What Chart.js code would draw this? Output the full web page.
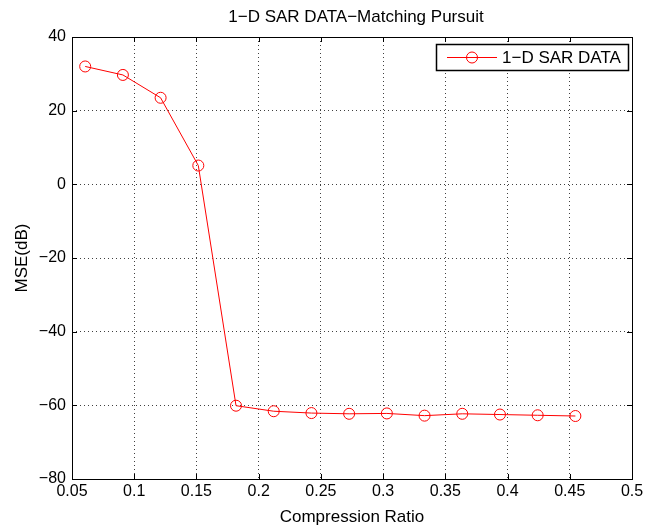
<!DOCTYPE html>
<html>
<head>
<meta charset="utf-8">
<script src="https://cdn.jsdelivr.net/npm/chart.js@4/dist/chart.umd.min.js"></script>
<style>
  html, body { margin: 0; padding: 0; background: #fff; }
  #wrap { width: 652px; height: 531px; }
</style>
</head>
<body>
<div id="wrap"><canvas id="mseChart" width="652" height="531"></canvas></div>
<script>
// chart data
const compressionRatio = [0.0606, 0.0909, 0.1212, 0.1515, 0.1818, 0.2121, 0.2424,
                          0.2727, 0.3030, 0.3333, 0.3636, 0.3939, 0.4242, 0.4545];
const mseDb = [32.0, 29.7, 23.5, 5.1, -60.1, -61.6, -62.1,
               -62.3, -62.2, -62.8, -62.3, -62.5, -62.7, -62.9];
const seriesLabel = "1\u2212D SAR DATA";
const chartTitle = "1\u2212D SAR DATA\u2212Matching Pursuit";
const xTickValues = [0.05, 0.1, 0.15, 0.2, 0.25, 0.3, 0.35, 0.4, 0.45, 0.5];
const xTickLabels = ["0.05", "0.1", "0.15", "0.2", "0.25", "0.3", "0.35", "0.4", "0.45", "0.5"];
const yTickValues = [-80, -60, -40, -20, 0, 20, 40];

const FONT = "'Liberation Sans', Arial, sans-serif";

// box around the plot, inward ticks, title and legend (matlab look)
const matlabFrame = {
    id: "matlabFrame",
    afterDraw(chart) {
        const ctx = chart.ctx;
        const a = chart.chartArea;
        const xs = chart.scales.x, ys = chart.scales.y;
        ctx.save();
        ctx.strokeStyle = "#000";
        ctx.lineWidth = 1;
        ctx.strokeRect(Math.round(a.left) + 0.5, Math.round(a.top) + 0.5,
                       Math.round(a.right - a.left), Math.round(a.bottom - a.top));
        const len = 5;
        ctx.beginPath();
        xTickValues.forEach(v => {
            const px = Math.round(xs.getPixelForValue(v)) + 0.5;
            ctx.moveTo(px, a.bottom); ctx.lineTo(px, a.bottom - len);
            ctx.moveTo(px, a.top); ctx.lineTo(px, a.top + len);
        });
        yTickValues.forEach(v => {
            const py = Math.round(ys.getPixelForValue(v)) + 0.5;
            ctx.moveTo(a.left, py); ctx.lineTo(a.left + len, py);
            ctx.moveTo(a.right, py); ctx.lineTo(a.right - len, py);
        });
        ctx.stroke();

        // title, centred over the axes
        ctx.fillStyle = "#000";
        ctx.font = "17px " + FONT;
        ctx.textAlign = "center";
        ctx.textBaseline = "middle";
        ctx.fillText(chartTitle, (a.left + a.right) / 2 + 4, 17);

        // legend box
        const bx = 436.5, by = 44.5, bw = 192, bh = 26;
        ctx.fillStyle = "#fff";
        ctx.fillRect(bx, by, bw, bh);
        ctx.lineWidth = 1.5;
        ctx.strokeRect(bx, by, bw, bh);
        const ly = by + bh / 2;
        ctx.strokeStyle = "#ff0000";
        ctx.lineWidth = 1;
        ctx.beginPath();
        ctx.moveTo(447, ly); ctx.lineTo(497, ly);
        ctx.stroke();
        ctx.beginPath();
        ctx.arc(472, ly, 5.5, 0, Math.PI * 2);
        ctx.stroke();
        ctx.fillStyle = "#000";
        ctx.font = "17px " + FONT;
        ctx.textAlign = "left";
        ctx.fillText(chart.data.datasets[0].label, 502, ly + 1);
        ctx.restore();
    }
};

const ctx = document.getElementById("mseChart").getContext("2d");

const mseChart = new Chart(ctx, {
    type: "line",
    data: {
        datasets: [{
            label: seriesLabel,
            data: compressionRatio.map((x, i) => ({ x: x, y: mseDb[i] })),
            borderColor: "#ff0000",
            backgroundColor: "rgba(0,0,0,0)",
            borderWidth: 1,
            pointRadius: 5.5,
            pointHoverRadius: 5.5,
            pointBorderWidth: 1,
            pointBorderColor: "#ff0000",
            pointBackgroundColor: "rgba(0,0,0,0)",
            tension: 0
        }]
    },
    options: {
        responsive: false,
        animation: false,
        devicePixelRatio: 1,
        layout: { padding: { left: 0, right: 20, top: 37, bottom: 0 } },
        plugins: {
            legend: { display: false },
            tooltip: { enabled: false },
            title: { display: false }
        },
        scales: {
            x: {
                type: "linear",
                min: 0.05,
                max: 0.5,
                afterBuildTicks: scale => { scale.ticks = xTickValues.map(v => ({ value: v })); },
                afterFit: scale => { scale.height = 52; },
                ticks: {
                    color: "#000",
                    font: { family: FONT, size: 16 },
                    padding: 3,
                    maxRotation: 0,
                    autoSkip: false,
                    callback: (v, i) => xTickLabels[i]
                },
                grid: {
                    color: "rgba(0,0,0,0.75)",
                    lineWidth: 1,
                    drawTicks: false
                },
                border: { display: false, dash: [1, 3] },
                title: {
                    display: true,
                    text: "Compression Ratio",
                    color: "#000",
                    font: { family: FONT, size: 17 },
                    padding: { top: 0, bottom: 3 }
                }
            },
            y: {
                type: "linear",
                min: -80,
                max: 40,
                afterBuildTicks: scale => { scale.ticks = yTickValues.map(v => ({ value: v })); },
                afterFit: scale => { scale.width = 72; },
                ticks: {
                    color: "#000",
                    font: { family: FONT, size: 16 },
                    padding: 6,
                    callback: v => String(v).replace("-", "\u2212")
                },
                grid: {
                    color: "rgba(0,0,0,0.75)",
                    lineWidth: 1,
                    drawTicks: false
                },
                border: { display: false, dash: [1, 3] },
                title: {
                    display: true,
                    text: "MSE(dB)",
                    color: "#000",
                    font: { family: FONT, size: 17 },
                    padding: { top: 12, bottom: 0 }
                }
            }
        }
    },
    plugins: [matlabFrame]
});
</script>
</body>
</html>
